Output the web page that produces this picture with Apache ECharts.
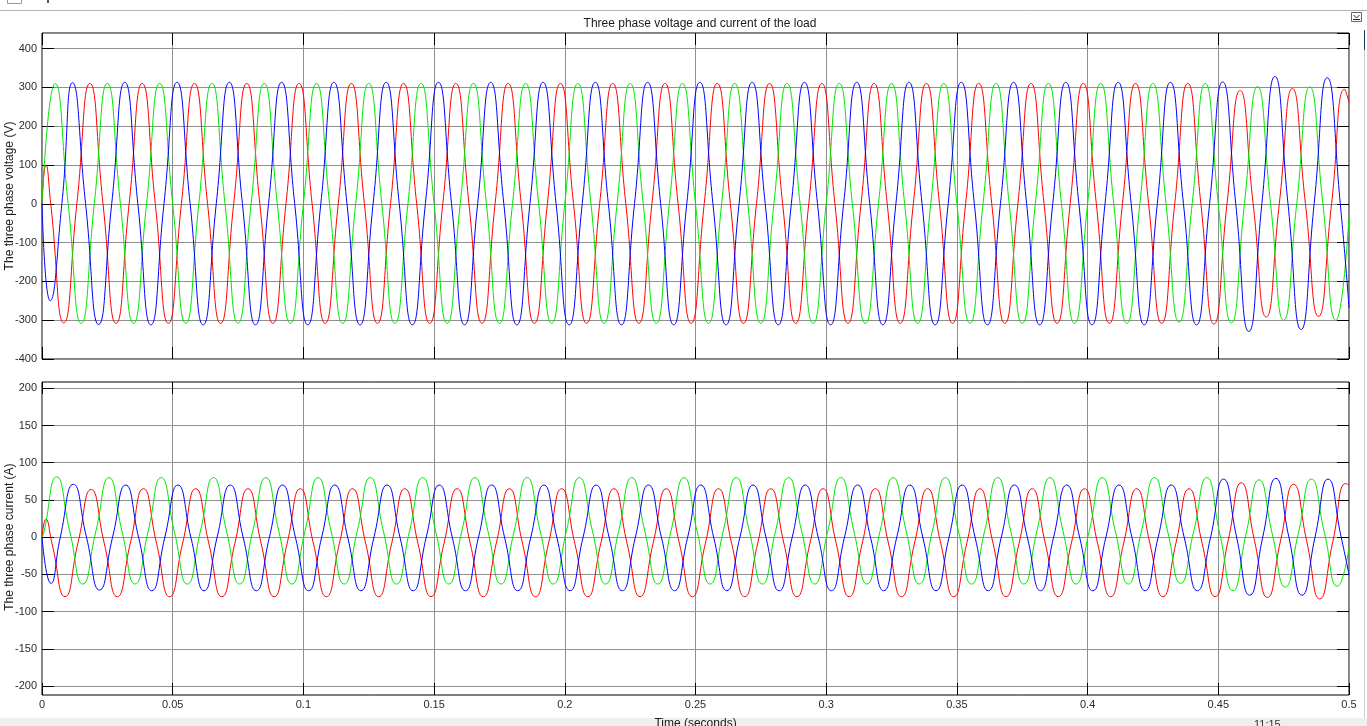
<!DOCTYPE html>
<html>
<head>
<meta charset="utf-8">
<script src="https://cdn.jsdelivr.net/npm/echarts@6/dist/echarts.min.js"></script>
<style>
html,body{margin:0;padding:0;background:#fff;}
#c{width:1367px;height:726px;}
</style>
</head>
<body>
<div id="c"></div>
<script>
// ---------------- DATA ----------------
// Time in ms. Each trace: explicit head points, then samples every STEP_MS from START, then tail points.
const STEP_MS = 5;
const TITLE = 'Three phase voltage and current of the load';
const V_LABEL = 'The three phase voltage (V)';
const I_LABEL = 'The three phase current (A)';
const X_LABEL = 'Time (seconds)';

// Voltage, phase red (samples: zero, trough, zero, peak ...)
const vRedHead = [[0, 0], [1.5, 100]];
const vRedStart = 3.333;
const vRed = [
  0,-307,0,310, 0,-308,0,310, 0,-308,0,310, 0,-308,0,310,
  0,-308,0,310, 0,-308,0,310, 0,-308,0,310, 0,-308,0,310,
  0,-308,0,310, 0,-308,0,310, 0,-308,0,310, 0,-308,0,310,
  0,-308,0,310, 0,-308,0,310, 0,-308,0,310, 0,-308,0,310,
  0,-308,0,310, 0,-308,0,310, 0,-308,0,310, 0,-308,0,310,
  0,-308,0,310, 0,-308,0,310, 0,-310,0,292, 0,-292,0,297,
  0,-290,0,295
];
const vRedTail = [[500, 262]];

// Voltage, phase green (samples: zero, peak, zero, trough ...)
const vGreenHead = [];
const vGreenStart = 0;
const vGreen = [
  0,310,0,-308, 0,310,0,-308, 0,310,0,-308, 0,310,0,-308,
  0,310,0,-308, 0,310,0,-308, 0,310,0,-308, 0,310,0,-308,
  0,310,0,-308, 0,310,0,-308, 0,310,0,-308, 0,310,0,-308,
  0,310,0,-308, 0,310,0,-308, 0,310,0,-308, 0,310,0,-308,
  0,310,0,-308, 0,310,0,-308, 0,310,0,-308, 0,310,0,-308,
  0,310,0,-308, 0,310,0,-305, 0,310,0,-307, 0,302,0,-300,
  0,301,0,-300, -35
];
const vGreenTail = [];

// Voltage, phase blue (samples: peak, zero, trough, zero ...)
const vBlueHead = [[0, 0], [3.1, -250], [7.6, 0]];
const vBlueStart = 11.667;
const vBlue = [
  312,0,-311,0, 313,0,-312,0, 313,0,-312,0, 313,0,-312,0,
  313,0,-312,0, 313,0,-312,0, 313,0,-312,0, 313,0,-312,0,
  313,0,-312,0, 313,0,-312,0, 313,0,-312,0, 313,0,-312,0,
  313,0,-312,0, 313,0,-312,0, 313,0,-312,0, 313,0,-312,0,
  313,0,-312,0, 313,0,-312,0, 313,0,-312,0, 313,0,-312,0,
  313,0,-312,0, 313,0,-312,0, 314,0,-329,0, 328,0,-324,0,
  325,0
];
const vBlueTail = [[500, -268]];

// Current, phase red (samples: mid, trough, mid, peak ...)
const iRedHead = [[0, 0], [1.5, 24]];
const iRedStart = 3.8;
const iRed = [
  -8,-80,-7,64, -8,-80,-8,65, -8,-80,-8,65, -8,-80,-8,65,
  -8,-80,-8,65, -8,-80,-8,65, -8,-80,-8,65, -8,-80,-8,65,
  -8,-80,-8,65, -8,-80,-8,65, -8,-80,-8,65, -8,-80,-8,65,
  -8,-80,-8,65, -8,-80,-8,65, -8,-80,-8,65, -8,-80,-8,65,
  -8,-80,-8,65, -8,-80,-8,65, -8,-80,-8,65, -8,-80,-8,65,
  -8,-80,-8,65, -8,-80,-8,65, -8,-80,-4,73, -4,-81,-5,71,
  -5,-83,-6,72
];
const iRedTail = [[500, 70]];

// Current, phase green (samples: mid, peak, mid, trough ...)
const iGreenHead = [[0, 0]];
const iGreenStart = 0.6;
const iGreen = [
  5,81,8,-63, 8,80,8,-63, 8,80,8,-63, 8,80,8,-63,
  8,80,8,-63, 8,80,8,-63, 8,80,8,-63, 8,80,8,-63,
  8,80,8,-63, 8,80,8,-63, 8,80,8,-63, 8,80,8,-63,
  8,80,8,-63, 8,80,8,-63, 8,80,8,-63, 8,80,8,-63,
  8,80,8,-63, 8,80,8,-63, 8,80,8,-63, 8,80,8,-63,
  8,80,8,-63, 8,80,8,-62, 8,80,4,-72, 4,77,5,-67,
  5,78,6,-66
];
const iGreenTail = [[500, -15]];

// Current, phase blue (samples: mid, peak, mid, trough ...)
const iBlueHead = [[0, 0], [3.4, -62]];
const iBlueStart = 7.0;
const iBlue = [
  0,71,0,-71, 0,70,-1,-72, 0,70,-1,-72, 0,70,-1,-72,
  0,70,-1,-72, 0,70,-1,-72, 0,70,-1,-72, 0,70,-1,-72,
  0,70,-1,-72, 0,70,-1,-72, 0,70,-1,-72, 0,70,-1,-72,
  0,70,-1,-72, 0,70,-1,-72, 0,70,-1,-72, 0,70,-1,-72,
  0,70,-1,-72, 0,70,-1,-72, 0,70,-1,-72, 0,70,-1,-72,
  0,70,-1,-72, 0,70,-1,-72, -1,78,0,-78, 0,79,0,-78,
  0,78,0
];
const iBlueTail = [[500, -50]];

// Axis ranges / ticks
const X_MIN = 0, X_MAX = 0.5, X_STEP = 0.05;
const V_MIN = -400, V_MAX = 440, V_STEP = 100;
const I_MIN = -200, I_MAX = 200, I_STEP = 50;

// ---------------- BUILD ----------------
function build(head, start, vals, tail) {
  const pts = head.map(p => [p[0] / 1000, p[1]]);
  vals.forEach((v, i) => pts.push([(start + i * STEP_MS) / 1000, v]));
  tail.forEach(p => pts.push([p[0] / 1000, p[1]]));
  return pts;
}

const RED = '#ff0000', GREEN = '#00e800', BLUE = '#0000ff';
const FONT = 'Liberation Sans, Arial, sans-serif';
const GRIDC = '#8f8f8f';

const L = 42, W = 1307;
const noLine = () => ({ show: false, onZero: false });
const tick = () => ({ show: true, inside: true, length: 12, lineStyle: { color: '#000000', width: 1 } });
const lbl = () => ({ fontFamily: FONT, fontSize: 11, color: '#2b2b2b' });
const split = () => ({ show: true, lineStyle: { color: GRIDC, width: 1 } });

function line(name, data, color, xi, yi) {
  return {
    name, type: 'line', data, xAxisIndex: xi, yAxisIndex: yi,
    showSymbol: false, symbol: 'none', smooth: 0.55,
    lineStyle: { color, width: 1 }, itemStyle: { color },
    silent: true, z: 3
  };
}

const chart = echarts.init(document.getElementById('c'), null, { renderer: 'canvas' });
chart.setOption({
  animation: false,
  backgroundColor: '#ffffff',
  title: {
    text: TITLE, left: 695, top: 13, textAlign: 'center',
    textStyle: { fontFamily: FONT, fontSize: 12, fontWeight: 'normal', color: '#1a1a1a' }
  },
  grid: [
    { left: L, width: W, top: 33, height: 326, show: true, borderColor: '#000', borderWidth: 1, outerBoundsMode: 'none' },
    { left: L, width: W, top: 388.3, height: 297.7, show: false, outerBoundsMode: 'none' },
    { left: L, width: W, top: 382, height: 313, show: true, borderColor: '#000', borderWidth: 1, outerBoundsMode: 'none' }
  ],
  xAxis: [
    { gridIndex: 0, type: 'value', min: X_MIN, max: X_MAX, interval: X_STEP, position: 'bottom',
      axisLine: noLine(), axisTick: tick(), axisLabel: { show: false }, splitLine: split() },
    { gridIndex: 0, type: 'value', min: X_MIN, max: X_MAX, interval: X_STEP, position: 'top',
      axisLine: noLine(), axisTick: tick(), axisLabel: { show: false }, splitLine: { show: false } },
    { gridIndex: 1, type: 'value', min: X_MIN, max: X_MAX, interval: X_STEP, position: 'bottom',
      axisLine: noLine(), axisTick: { show: false }, axisLabel: { show: false }, splitLine: { show: false } },
    { gridIndex: 2, type: 'value', min: X_MIN, max: X_MAX, interval: X_STEP, position: 'bottom',
      axisLine: noLine(), axisTick: tick(),
      axisLabel: Object.assign({ margin: 4, formatter: v => v === 0 ? '0' : String(Math.round(v * 100) / 100) }, lbl()),
      splitLine: split(),
      name: X_LABEL, nameLocation: 'middle', nameGap: 23, nameMoveOverlap: false,
      nameTextStyle: { fontFamily: FONT, fontSize: 12, color: '#1a1a1a' } },
    { gridIndex: 2, type: 'value', min: X_MIN, max: X_MAX, interval: X_STEP, position: 'top',
      axisLine: noLine(), axisTick: tick(), axisLabel: { show: false }, splitLine: { show: false } }
  ],
  yAxis: [
    { gridIndex: 0, type: 'value', min: V_MIN, max: V_MAX, interval: V_STEP, position: 'left',
      axisLine: noLine(), axisTick: tick(),
      axisLabel: Object.assign({ margin: 5, showMaxLabel: false }, lbl()),
      splitLine: split(),
      name: V_LABEL, nameLocation: 'middle', nameGap: 26, nameMoveOverlap: false,
      nameTextStyle: { fontFamily: FONT, fontSize: 12, color: '#1a1a1a' } },
    { gridIndex: 0, type: 'value', min: V_MIN, max: V_MAX, interval: V_STEP, position: 'right',
      axisLine: noLine(), axisTick: tick(), axisLabel: { show: false }, splitLine: { show: false } },
    { gridIndex: 1, type: 'value', min: I_MIN, max: I_MAX, interval: I_STEP, position: 'left',
      axisLine: noLine(), axisTick: tick(),
      axisLabel: Object.assign({ margin: 5 }, lbl()),
      splitLine: split(),
      name: I_LABEL, nameLocation: 'middle', nameGap: 26, nameMoveOverlap: false,
      nameTextStyle: { fontFamily: FONT, fontSize: 12, color: '#1a1a1a' } },
    { gridIndex: 1, type: 'value', min: I_MIN, max: I_MAX, interval: I_STEP, position: 'right',
      axisLine: noLine(), axisTick: tick(), axisLabel: { show: false }, splitLine: { show: false } },
    { gridIndex: 2, type: 'value', min: 0, max: 1, show: false }
  ],
  series: [
    line('Va', build(vRedHead, vRedStart, vRed, vRedTail), RED, 0, 0),
    line('Vb', build(vGreenHead, vGreenStart, vGreen, vGreenTail), GREEN, 0, 0),
    line('Vc', build(vBlueHead, vBlueStart, vBlue, vBlueTail), BLUE, 0, 0),
    line('Ia', build(iRedHead, iRedStart, iRed, iRedTail), RED, 2, 2),
    line('Ib', build(iGreenHead, iGreenStart, iGreen, iGreenTail), GREEN, 2, 2),
    line('Ic', build(iBlueHead, iBlueStart, iBlue, iBlueTail), BLUE, 2, 2)
  ],
  graphic: [
    { type: 'rect', z: -10, silent: true, shape: { x: 0, y: 718, width: 1367, height: 8 }, style: { fill: '#efefef' } },
    { type: 'line', silent: true, shape: { x1: 0, y1: 10.5, x2: 1367, y2: 10.5 }, style: { stroke: '#b4b4b4', lineWidth: 1 } },
    { type: 'rect', silent: true, shape: { x: 7.5, y: -4.5, width: 14, height: 8 }, style: { fill: 'none', stroke: '#9a9a9a', lineWidth: 1 } },
    { type: 'rect', silent: true, shape: { x: 47, y: 0, width: 2, height: 3 }, style: { fill: '#555' } },
    { type: 'rect', silent: true, shape: { x: 1351.5, y: 12.5, width: 10, height: 9 }, style: { fill: '#fff', stroke: '#666', lineWidth: 1 } },
    { type: 'polyline', silent: true, shape: { points: [[1353.5, 15], [1356.5, 18], [1359.5, 15]] }, style: { stroke: '#222', fill: 'none', lineWidth: 1 } },
    { type: 'line', silent: true, shape: { x1: 1353, y1: 19.5, x2: 1360, y2: 19.5 }, style: { stroke: '#222', lineWidth: 1 } },
    { type: 'line', silent: true, shape: { x1: 1364.5, y1: 30, x2: 1364.5, y2: 50 }, style: { stroke: '#1d3b66', lineWidth: 1 } },
    { type: 'line', silent: true, shape: { x1: 1364.5, y1: 50, x2: 1364.5, y2: 718 }, style: { stroke: '#cfcfcf', lineWidth: 1 } },
    { type: 'text', silent: true, z: 10, style: { text: '11:15', x: 1254, y: 719, fill: '#333', font: '11px Liberation Sans' } }
  ]
});
</script>
</body>
</html>
